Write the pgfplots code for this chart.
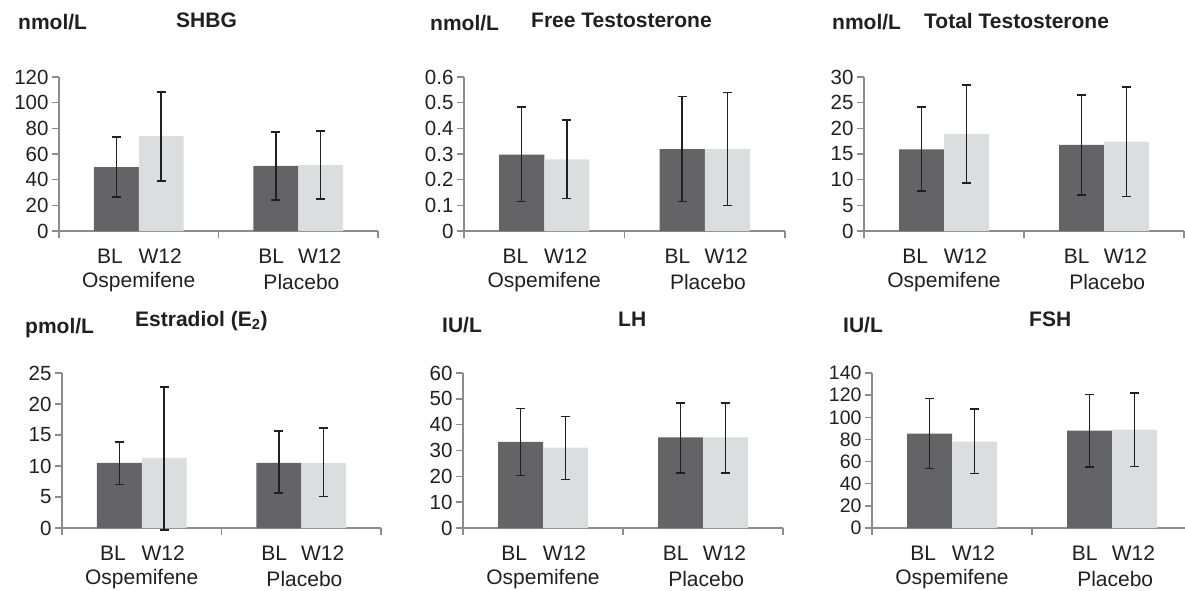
\documentclass[border=0pt]{standalone}
\usepackage{pgfplots}
\pgfplotsset{compat=1.18}
\usepackage{fontspec}
\setmainfont{Liberation Sans}
\definecolor{darkbar}{RGB}{100,100,102}
\definecolor{lightbar}{RGB}{220,221,223}
\definecolor{axgray}{RGB}{140,140,140}
\definecolor{txt}{RGB}{35,31,32}
\pgfplotsset{
  panel/.style={
    scale only axis, height=154pt,
    axis lines*=left,
    axis line style={axgray, line width=1.5pt},
    xmin=-0.5, xmax=1.5, ymin=0,
    xtick={-0.5,0.5,1.5}, xticklabels={},
    tick style={axgray, line width=1.5pt},
    major tick length=7pt,
    tick align=outside,
    ybar, bar width=0.28125,
    clip=false,
    /pgf/number format/assume math mode=true,
    yticklabel style={font=\fontsize{20.5}{20.5}\selectfont, text=txt},
    error bars/error bar style={line width=1.6pt, txt},
    error bars/error mark options={rotate=90, line width=1.6pt, txt, mark size=4.5pt},
  },
  dk/.style={fill=darkbar, draw=none, bar shift=0pt,
    error bars/.cd, y dir=both, y explicit},
  lt/.style={fill=lightbar, draw=none, bar shift=0pt,
    error bars/.cd, y dir=both, y explicit},
}
\newcommand{\grouplabels}{%
  \node[font=\fontsize{21}{21}\selectfont, text=txt] at ([yshift=-25pt]axis cs:-0.18,0) {BL};
  \node[font=\fontsize{21}{21}\selectfont, text=txt] at ([yshift=-25pt]axis cs:0.134,0) {W12};
  \node[font=\fontsize{21}{21}\selectfont, text=txt] at ([yshift=-25pt]axis cs:0.83,0) {BL};
  \node[font=\fontsize{21}{21}\selectfont, text=txt] at ([yshift=-25pt]axis cs:1.134,0) {W12};
  \node[font=\fontsize{21}{21}\selectfont, text=txt] at ([yshift=-51pt]axis cs:0,0) {Ospemifene};
  \node[font=\fontsize{21}{21}\selectfont, text=txt] at ([yshift=-51pt]axis cs:1.02,0) {Placebo};
}
\tikzset{ttl/.style={anchor=base west, inner sep=0pt, font=\fontsize{21}{21}\selectfont\bfseries, text=txt}}
\begin{document}
\begin{tikzpicture}[x=1pt,y=1pt]
\path[use as bounding box] (0,0) rectangle (1185,590);

% ---------- SHBG ----------
\begin{axis}[panel, at={(59pt,359pt)}, anchor=south west, width=319pt, ymax=120, ytick={0,20,...,120}]
\addplot+[dk] coordinates {(-0.140625,49.8) += (0,23.6) -= (0,23.4) (0.859375,50.8) += (0,26.2) -= (0,26.7)};
\addplot+[lt] coordinates {(0.140625,73.9) += (0,34.4) -= (0,34.8) (1.140625,51.6) += (0,26.4) -= (0,26.7)};
\grouplabels
\end{axis}

% ---------- Free Testosterone ----------
\begin{axis}[panel, at={(464pt,359pt)}, anchor=south west, width=321pt, ymax=0.6, ytick={0,0.1,0.2,0.3,0.4,0.5,0.6}]
\addplot+[dk] coordinates {(-0.140625,0.298) += (0,0.185) -= (0,0.183) (0.859375,0.319) += (0,0.205) -= (0,0.204)};
\addplot+[lt] coordinates {(0.140625,0.279) += (0,0.154) -= (0,0.152) (1.140625,0.319) += (0,0.220) -= (0,0.219)};
\grouplabels
\end{axis}

% ---------- Total Testosterone ----------
\begin{axis}[panel, at={(864pt,359pt)}, anchor=south west, width=320pt, ymax=30, ytick={0,5,...,30}]
\addplot+[dk] coordinates {(-0.140625,15.9) += (0,8.2) -= (0,8.1) (0.859375,16.8) += (0,9.7) -= (0,9.8)};
\addplot+[lt] coordinates {(0.140625,18.9) += (0,9.5) -= (0,9.5) (1.140625,17.4) += (0,10.6) -= (0,10.7)};
\grouplabels
\end{axis}

% ---------- Estradiol ----------
\begin{axis}[panel, at={(62pt,62pt)}, anchor=south west, width=319pt, height=155pt, ymax=25, ytick={0,5,...,25}]
\addplot+[dk] coordinates {(-0.140625,10.5) += (0,3.4) -= (0,3.5) (0.859375,10.5) += (0,5.1) -= (0,4.9)};
\addplot+[lt] coordinates {(0.140625,11.3) += (0,11.4) -= (0,11.6) (1.140625,10.5) += (0,5.6) -= (0,5.4)};
\grouplabels
\end{axis}

% ---------- LH ----------
\begin{axis}[panel, at={(463pt,62pt)}, anchor=south west, width=320pt, height=155pt, ymax=60, ytick={0,10,...,60}]
\addplot+[dk] coordinates {(-0.140625,33.3) += (0,12.9) -= (0,12.9) (0.859375,35.1) += (0,13.4) -= (0,13.7)};
\addplot+[lt] coordinates {(0.140625,31.1) += (0,12.0) -= (0,12.3) (1.140625,35.1) += (0,13.3) -= (0,13.8)};
\grouplabels
\end{axis}

% ---------- FSH ----------
\begin{axis}[panel, at={(872pt,62pt)}, anchor=south west, width=313pt, height=155pt, xmax=1.45625, ymax=140, ytick={0,20,...,140},
  yticklabel style={font=\fontsize{19.5}{19.5}\selectfont}]
\addplot+[dk] coordinates {(-0.140625,85.2) += (0,31.9) -= (0,31.6) (0.859375,87.9) += (0,32.8) -= (0,32.8)};
\addplot+[lt] coordinates {(0.140625,78.0) += (0,29.5) -= (0,28.9) (1.140625,88.8) += (0,33.4) -= (0,33.1)};
\grouplabels
\end{axis}

% ---------- titles ----------
\node[ttl] at (18,560) {nmol/L};
\node[ttl] at (176,562) {SHBG};
\node[ttl] at (430,559) {nmol/L};
\node[ttl] at (531,562) {Free Testosterone};
\node[ttl] at (832,560) {nmol/L};
\node[ttl] at (924,561) {Total Testosterone};
\node[ttl] at (25,257) {pmol/L};
\node[ttl] at (135,264) {Estradiol (E\textsubscript{2})};
\node[ttl] at (442,258) {IU/L};
\node[ttl] at (618,264) {LH};
\node[ttl] at (843,258) {IU/L};
\node[ttl] at (1029,264) {FSH};
\end{tikzpicture}
\end{document}
